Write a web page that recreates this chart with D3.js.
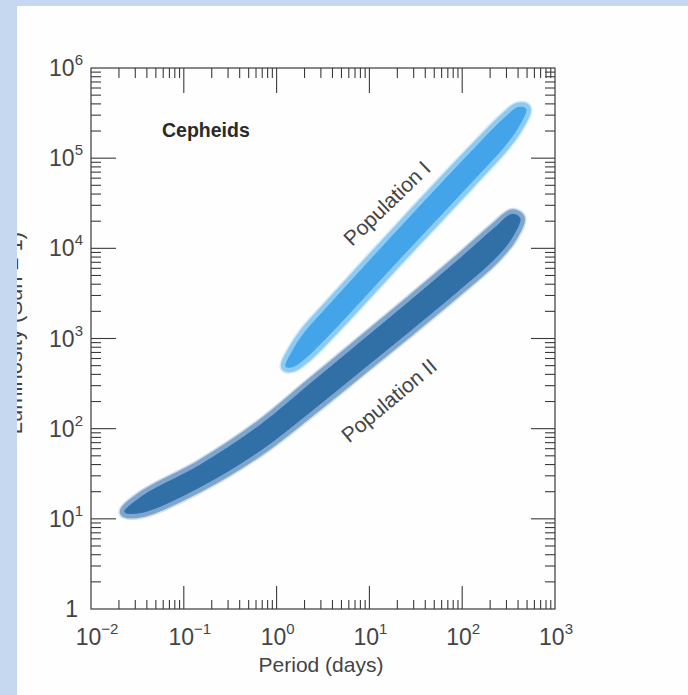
<!DOCTYPE html>
<html><head><meta charset="utf-8">
<script src="https://cdn.jsdelivr.net/npm/d3@7"></script>
<style>body{margin:0;background:#fff;} svg{display:block}</style>
</head><body><svg id="c" width="688" height="695"></svg>
<script>
// ---- data ----
const xTickExponents = [-2, -1, 0, 1, 2, 3];
const yTickExponents = [0, 1, 2, 3, 4, 5, 6];

// Population I band: centre line (period in days, luminosity in suns) and half-width (dex)
const popI_period = [1.26, 1.5, 2.0, 3.75, 21, 120, 290, 400, 485];
const popI_lum    = [490, 600, 830, 1640, 11200, 76000, 198000, 283000, 352000];
const popI_dex    = [0, 0.09, 0.145, 0.165, 0.17, 0.17, 0.155, 0.11, 0];

// Population II band
const popII_period = [0.0231, 0.0362, 0.149, 0.66, 2.28, 7.9, 27.2, 94, 225, 342, 418];
const popII_lum    = [11.9, 14.6, 29.8, 78.7, 218, 622, 1770, 5175, 11420, 17630, 21600];
const popII_dex    = [0, 0.09, 0.12, 0.14, 0.155, 0.16, 0.165, 0.17, 0.17, 0.13, 0];

const labels = [
  {text: "Population I",  period: 15.4, lum: 31700, angle: -44},
  {text: "Population II", period: 16.2, lum: 207,   angle: -40}
];

// ---- drawing ----
const svg = d3.select("#c");
const L = 91, R = 555, T = 68, B = 609;
const x = d3.scaleLog().domain([1e-2, 1e3]).range([L, R]);
const y = d3.scaleLog().domain([1, 1e6]).range([B, T]);
const ink = "#3a3a3a";
const txt = "#444";
const font = "'Liberation Sans', Arial, sans-serif";

svg.append("rect").attr("width", 688).attr("height", 695).attr("fill", "#fefefe");

// bands
function outline(P, Lum, D) {
  const n = P.length, pts = [];
  pts.push({p: P[0], l: Lum[0]});
  for (let i = 1; i < n - 1; i++) pts.push({p: P[i], l: Lum[i] * Math.pow(10, D[i])});
  pts.push({p: P[n - 1], l: Lum[n - 1]});
  for (let i = n - 2; i >= 1; i--) pts.push({p: P[i], l: Lum[i] / Math.pow(10, D[i])});
  return pts;
}
const bandLine = d3.line().x(d => x(d.p)).y(d => y(d.l)).curve(d3.curveCatmullRomClosed.alpha(0.5));
function band(P, Lum, D, core, rim, fuzz) {
  const d = bandLine(outline(P, Lum, D));
  svg.append("path").attr("d", d).attr("fill", fuzz).attr("stroke", fuzz)
    .attr("stroke-width", 13).attr("stroke-linejoin", "round").attr("opacity", 0.6);
  svg.append("path").attr("d", d).attr("fill", rim).attr("stroke", rim)
    .attr("stroke-width", 10).attr("stroke-linejoin", "round");
  svg.append("path").attr("d", d).attr("fill", core).attr("stroke", core)
    .attr("stroke-width", 1).attr("stroke-linejoin", "round");
}
band(popI_period, popI_lum, popI_dex, "#44a4ea", "#8dcbf3", "#bfe1f8");
band(popII_period, popII_lum, popII_dex, "#3070a7", "#7ea5cd", "#b5cbe2");

// frame
svg.append("rect").attr("x", L).attr("y", T).attr("width", R - L).attr("height", B - T)
  .attr("fill", "none").attr("stroke", ink).attr("stroke-width", 1.2);

// ticks
const isMajor = v => Math.abs(Math.log10(v) - Math.round(Math.log10(v))) < 1e-9;
const xt = x.ticks().filter(v => v > 1e-2 * 1.001 && v < 1e3 * 0.999);
const yt = y.ticks().filter(v => v > 1.001 && v < 1e6 * 0.999);
const tg = svg.append("g").attr("stroke", ink).attr("stroke-width", 1.1);
xt.forEach(v => {
  const px = x(v), mj = isMajor(v);
  tg.append("line").attr("x1", px).attr("x2", px).attr("y1", B).attr("y2", B - (mj ? 23 : 9));
  tg.append("line").attr("x1", px).attr("x2", px).attr("y1", T).attr("y2", T + (mj ? 25 : 10));
});
yt.forEach(v => {
  const py = y(v), mj = isMajor(v);
  tg.append("line").attr("y1", py).attr("y2", py).attr("x1", L).attr("x2", L + (mj ? 25 : 10));
  tg.append("line").attr("y1", py).attr("y2", py).attr("x1", R).attr("x2", R - (mj ? 24 : 10));
});

// tick labels
function powLabel(g, e, axis) {
  if (e === 0 && axis === "y") { g.text("1"); return; }
  g.append("tspan").text("10");
  g.append("tspan").attr("font-size", 15).attr("dy", -11).text(String(e).replace("-", "\u2212"));
}
xTickExponents.forEach(e => {
  const t = svg.append("text").attr("x", x(Math.pow(10, e)) + (e < 0 ? 6 : 1)).attr("y", 645)
    .attr("text-anchor", "middle").attr("font-family", font).attr("font-size", 23).attr("fill", txt);
  powLabel(t, e, "x");
});
yTickExponents.forEach(e => {
  const t = svg.append("text").attr("x", e === 0 ? 78 : 83).attr("y", y(Math.pow(10, e)) + 8)
    .attr("text-anchor", "end").attr("font-family", font).attr("font-size", 23).attr("fill", txt);
  powLabel(t, e, "y");
});

// axis titles
svg.append("text").attr("x", (L + R) / 2 - 2).attr("y", 672).attr("text-anchor", "middle")
  .attr("font-family", font).attr("font-size", 21).attr("fill", txt).text("Period (days)");
svg.append("text").attr("transform", "translate(22,333) rotate(-90)").attr("text-anchor", "middle")
  .attr("font-family", font).attr("font-size", 22).attr("fill", txt).text("Luminosity (Sun = 1)");

// annotations
svg.append("text").attr("x", 162).attr("y", 137).attr("font-family", font).attr("font-weight", "bold")
  .attr("font-size", 19.5).attr("fill", "#2a2a2a").text("Cepheids");
labels.forEach(lb => {
  svg.append("text").attr("transform", `translate(${x(lb.period)},${y(lb.lum)}) rotate(${lb.angle})`)
    .attr("text-anchor", "middle").attr("dominant-baseline", "central")
    .attr("font-family", font).attr("font-size", 21).attr("fill", txt).text(lb.text);
});

// scan border
svg.append("rect").attr("x", 0).attr("y", 0).attr("width", 17).attr("height", 695).attr("fill", "#c5d8f0");
svg.append("rect").attr("x", 0).attr("y", 0).attr("width", 688).attr("height", 6).attr("fill", "#c5d8f0");
</script></body></html>
